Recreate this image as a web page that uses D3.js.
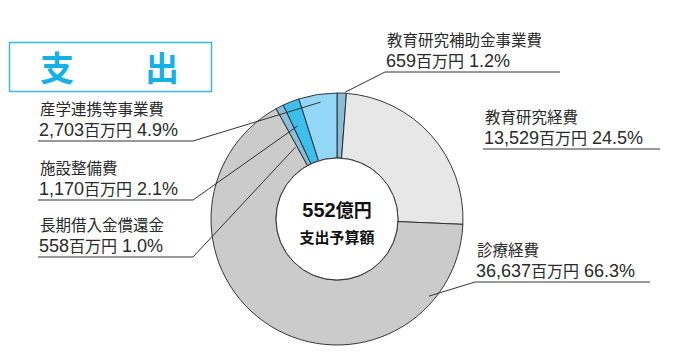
<!DOCTYPE html>
<html lang="ja">
<head>
    <meta charset="UTF-8">
    <title>支出 | D3</title>
    <style>
        body { margin: 0; background: #fff; }
        text { font-family: "Noto Sans CJK JP", sans-serif; }
    </style>
</head>
<body>
    <div id="container"></div>

    <script type="text/javascript" src="https://d3js.org/d3.v7.min.js"></script>
    <script type="text/javascript">
        // 支出の内訳（百万円）、12時の位置から時計回り
        var categories = ["教育研究補助金事業費", "教育研究経費", "診療経費", "長期借入金償還金", "施設整備費", "産学連携等事業費"];
        var amounts = [659, 13529, 36637, 558, 1170, 2703];
        var percents = [1.2, 24.5, 66.3, 1.0, 2.1, 4.9];
        var colors = ["#8bbcd8", "#e7e7e7", "#cacbca", "#8bbcd8", "#3dbfed", "#93d6f5"];

        var totalLabel = "552億円";
        var centerCaption = "支出予算額";

        var width = 673, height = 359;
        var cx = 337, cy = 219;
        var outerR = 126, innerR = 61;

        // label placement: underline y, underline x range, leader point (angle in deg, radius)
        var layout = [
            { x0: 385, x1: 560, y: 72, leadAngle: 3.6, leadR: 127 },
            { x0: 483, x1: 660, y: 149, leadAngle: null },
            { x0: 475, x1: 650, y: 282, leadAngle: 130, leadR: 120 },
            { x0: 38, x1: 193, y: 257, leadAngle: -30, leadR: 83, left: true },
            { x0: 38, x1: 193, y: 200, leadAngle: -23, leadR: 101, left: true },
            { x0: 38, x1: 193, y: 141, leadAngle: -8, leadR: 118, left: true }
        ];

        var svg = d3.select("#container")
            .append("svg")
            .attr("width", width)
            .attr("height", height);

        // latin runs get a wider sans face, kana/kanji stay in Noto CJK
        function mixedText(sel, str, cjkSize, latinSize, bold) {
            var runs = str.match(/[0-9A-Za-z,.%\s]+|[^0-9A-Za-z,.%\s]+/g);
            runs.forEach(function(r) {
                var latin = /^[0-9A-Za-z,.%\s]+$/.test(r);
                sel.append("tspan")
                    .attr("font-family", latin ? "'Liberation Sans', Arial, sans-serif" : "'Noto Sans CJK JP', sans-serif")
                    .attr("font-size", latin ? latinSize : cjkSize)
                    .attr("font-weight", bold ? "bold" : "normal")
                    .style("white-space", "pre")
                    .text(r);
            });
        }

        // title box
        svg.append("rect")
            .attr("x", 9.5).attr("y", 42.5)
            .attr("width", 202).attr("height", 49)
            .attr("fill", "#fff")
            .attr("stroke", "#3fb6e2")
            .attr("stroke-width", 1.5);

        svg.selectAll("text.title")
            .data(["支", "出"])
            .enter()
                .append("text")
                .attr("class", "title")
                .attr("x", function(d, i) { return i === 0 ? 57 : 162; })
                .attr("y", 81)
                .attr("text-anchor", "middle")
                .attr("font-size", 34)
                .attr("font-weight", "bold")
                .attr("fill", "#17b0e6")
                .text(function(d) { return d; });

        var pie = d3.pie().sort(null).value(function(d) { return d; });
        var arcs = pie(amounts);

        var arcPath = d3.arc()
            .innerRadius(innerR)
            .outerRadius(outerR);

        var donut = svg.append("g")
            .attr("transform", "translate(" + cx + "," + cy + ")");

        donut.selectAll("path")
            .data(arcs)
            .enter()
                .append("path")
                .attr("d", arcPath)
                .attr("fill", function(d, i) { return colors[i]; })
                .attr("stroke", "#222")
                .attr("stroke-width", 0.9);

        // leader lines, drawn over the slices
        var fmt = d3.format(",");
        var labels = svg.append("g");

        layout.forEach(function(l, i) {
            labels.append("line")
                .attr("x1", l.x0).attr("x2", l.x1)
                .attr("y1", l.y).attr("y2", l.y)
                .attr("stroke", "#333")
                .attr("stroke-width", 1);

            if (l.leadAngle !== null) {
                var a = l.leadAngle * Math.PI / 180;
                var px = cx + l.leadR * Math.sin(a);
                var py = cy - l.leadR * Math.cos(a);
                labels.append("line")
                    .attr("x1", l.left ? l.x1 : l.x0)
                    .attr("y1", l.y)
                    .attr("x2", px).attr("y2", py)
                    .attr("stroke", "#333")
                    .attr("stroke-width", 1);
            }

            labels.append("text")
                .attr("x", l.x0 + 2)
                .attr("y", l.y - 26)
                .attr("font-size", 15.5)
                .attr("fill", "#2a2a2a")
                .text(categories[i]);

            var t = labels.append("text")
                .attr("x", l.x0 + 1)
                .attr("y", l.y - 5)
                .attr("fill", "#2a2a2a");
            mixedText(t, fmt(amounts[i]) + "百万円 " + percents[i].toFixed(1) + "%", 16, 18, false);
        });

        // center
        donut.append("circle")
            .attr("r", innerR)
            .attr("fill", "#fff")
            .attr("stroke", "#222")
            .attr("stroke-width", 0.9);

        var t1 = donut.append("text")
            .attr("y", -2)
            .attr("text-anchor", "middle")
            .attr("fill", "#111");
        mixedText(t1, totalLabel, 18, 20, true);

        donut.append("text")
            .attr("y", 24)
            .attr("text-anchor", "middle")
            .attr("font-size", 15)
            .attr("font-weight", "bold")
            .attr("fill", "#111")
            .text(centerCaption);
    </script>
</body>
</html>
